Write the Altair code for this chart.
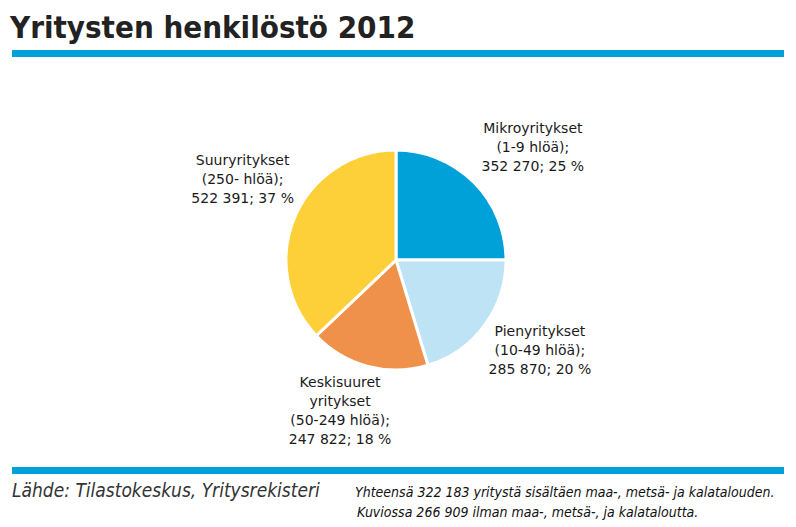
import altair as alt
import pandas as pd

categories = ["Mikroyritykset", "Pienyritykset", "Keskisuuret yritykset", "Suuryritykset"]
values = [352270, 285870, 247822, 522391]
labels = [
    "Mikroyritykset\n(1-9 hlöä);\n352 270; 25 %",
    "Pienyritykset\n(10-49 hlöä);\n285 870; 20 %",
    "Keskisuuret\nyritykset\n(50-249 hlöä);\n247 822; 18 %",
    "Suuryritykset\n(250- hlöä);\n522 391; 37 %",
]
colors = ["#00a1d9", "#bde3f5", "#f0914b", "#fdd03a"]

title_text = "Yritysten henkilöstö 2012"
source_text = "Lähde: Tilastokeskus, Yritysrekisteri"
note_lines = [
    "Yhteensä 322 183 yritystä sisältäen maa-, metsä- ja kalatalouden.",
    "Kuviossa 266 909 ilman maa-, metsä-, ja kalataloutta.",
]

df = pd.DataFrame({"cat": categories, "value": values, "label": labels, "order": list(range(len(values)))})

FONT = "DejaVu Sans Condensed"

pie = alt.Chart(df).mark_arc(outerRadius=110, stroke="white", strokeWidth=3).encode(
    theta=alt.Theta("value:Q", stack=True),
    order=alt.Order("order:Q"),
    color=alt.Color("cat:N", scale=alt.Scale(domain=categories, range=colors), legend=None),
)

# per-label fine offsets (label text itself comes from the data)
offsets = {
    "Mikroyritykset": (18, -8),
    "Pienyritykset": (9, -24),
    "Keskisuuret yritykset": (-13, -35),
    "Suuryritykset": (1, -29),
}
label_layers = []
for cat, (ddx, ddy) in offsets.items():
    label_layers.append(
        alt.Chart(df)
        .transform_window(cum="sum(value)", sort=[alt.SortField("order")])
        .transform_calculate(mid="datum.cum - datum.value / 2")
        .transform_filter(alt.datum.cat == cat)
        .mark_text(radius=168, font="DejaVu Sans", fontSize=14, color="#1a1a1a",
                   lineBreak="\n", align="center", baseline="alphabetic", lineHeight=19,
                   dx=ddx, dy=ddy)
        .encode(theta=alt.Theta("mid:Q", stack=None), text="label:N")
    )

one = pd.DataFrame({"a": [0]})

title = alt.Chart(one).mark_text(text=title_text, font=FONT, fontSize=31, fontWeight="bold",
                                 color="#222222", align="left", baseline="alphabetic").encode(
    x=alt.value(2), y=alt.value(30))
bar_top = alt.Chart(one).mark_rule(color="#00a1d9", strokeWidth=7).encode(
    x=alt.value(4), x2=alt.value(776), y=alt.value(45.5))
bar_bot = alt.Chart(one).mark_rule(color="#00a1d9", strokeWidth=7).encode(
    x=alt.value(4), x2=alt.value(776), y=alt.value(462.5))
source = alt.Chart(one).mark_text(text=source_text, font=FONT, fontSize=19, fontStyle="italic",
                                  color="#333333", align="left", baseline="alphabetic").encode(
    x=alt.value(4), y=alt.value(489))
note1 = alt.Chart(one).mark_text(text=note_lines[0], font=FONT, fontSize=14, fontStyle="italic",
                                 color="#111111", align="left", baseline="alphabetic").encode(
    x=alt.value(347), y=alt.value(489))
note2 = alt.Chart(one).mark_text(text=note_lines[1], font=FONT, fontSize=14, fontStyle="italic",
                                 color="#111111", align="left", baseline="alphabetic").encode(
    x=alt.value(349), y=alt.value(509))

chart = alt.layer(pie, *label_layers, title, bar_top, bar_bot, source, note1, note2).properties(
    width=776, height=504, padding=0, background="white"
).configure_view(stroke=None)

chart.save("out.html", embed_options={"renderer": "svg", "actions": False})
